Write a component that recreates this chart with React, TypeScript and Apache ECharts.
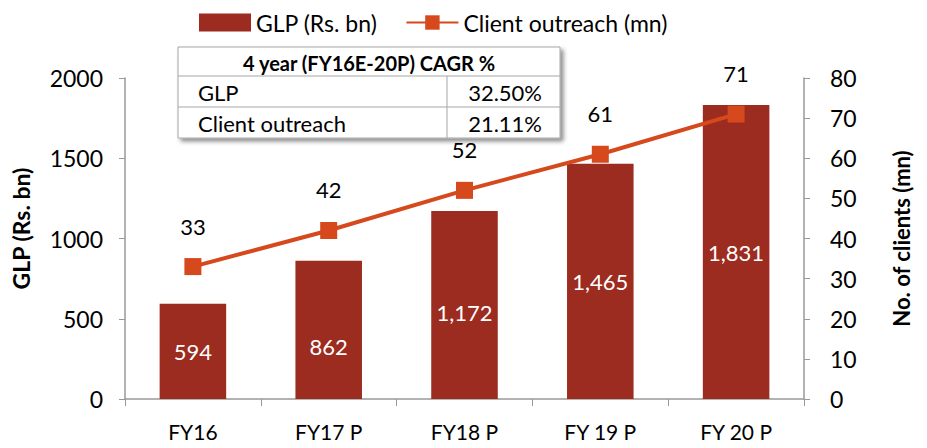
import React, { useEffect, useRef } from "react";
import * as echarts from "echarts";

const categories = ["FY16", "FY17 P", "FY18 P", "FY 19 P", "FY 20 P"];
const glp = [594, 862, 1172, 1465, 1831];
const clients = [33, 42, 52, 61, 71];
const tableHeader = "4 year (FY16E-20P) CAGR %";
const tableRows = [
  ["GLP", "32.50%"],
  ["Client outreach", "21.11%"],
];

const FONT = "Lato, 'Open Sans', sans-serif";

export default function App() {
  const ref = useRef<HTMLDivElement>(null);
  useEffect(() => {
    if (!ref.current) return;
    const chart = echarts.init(ref.current, undefined, { renderer: "svg" });
    const tx = 178, ty = 47, tw = 382, th = 91, colX = 447;
    const rowH = [29, 31, 31];
    const graphics: any[] = [
      {
        type: "rect",
        shape: { x: tx, y: ty, width: tw, height: th },
        style: {
          fill: "#fff",
          stroke: "#a6a6a6",
          lineWidth: 1,
          shadowBlur: 4,
          shadowOffsetX: 3,
          shadowOffsetY: 3,
          shadowColor: "rgba(0,0,0,0.45)",
        },
        z: 10,
      },
      { type: "line", shape: { x1: tx, y1: ty + rowH[0], x2: tx + tw, y2: ty + rowH[0] }, style: { stroke: "#a6a6a6", lineWidth: 1 }, z: 11 },
      { type: "line", shape: { x1: tx, y1: ty + rowH[0] + rowH[1], x2: tx + tw, y2: ty + rowH[0] + rowH[1] }, style: { stroke: "#a6a6a6", lineWidth: 1 }, z: 11 },
      { type: "line", shape: { x1: colX, y1: ty + rowH[0], x2: colX, y2: ty + th }, style: { stroke: "#a6a6a6", lineWidth: 1 }, z: 11 },
      {
        type: "text",
        x: tx + tw / 2,
        y: ty + rowH[0] / 2 + 1,
        style: { text: tableHeader, font: `bold 20px ${FONT}`, fill: "#000", align: "center", verticalAlign: "middle" },
        z: 12,
      },
    ];
    tableRows.forEach((r, i) => {
      const cy = ty + rowH[0] + rowH[1] * i + rowH[1] / 2 + 1;
      graphics.push({
        type: "text", x: tx + 20, y: cy,
        style: { text: r[0], font: `22px ${FONT}`, fill: "#000", align: "left", verticalAlign: "middle" }, z: 12,
      });
      graphics.push({
        type: "text", x: tx + tw - 18, y: cy,
        style: { text: r[1], font: `22px ${FONT}`, fill: "#000", align: "right", verticalAlign: "middle" }, z: 12,
      });
    });

    // Excel nudged a few bar labels downward, away from the line
    const barLabelNudge: Record<number, number> = { 1: 17, 2: 8 };
    const barData = glp.map((v, i) =>
      barLabelNudge[i] ? { value: v, label: { offset: [0, barLabelNudge[i]] } } : v
    );

    chart.setOption({
      animation: false,
      textStyle: { fontFamily: FONT },
      legend: {
        top: 6,
        left: 194,
        itemGap: 28,
        itemWidth: 52,
        itemHeight: 18,
        textStyle: { fontSize: 23, color: "#000", fontFamily: FONT },
        data: [
          { name: "GLP (Rs. bn)", icon: "rect" },
          { name: "Client outreach (mn)" },
        ],
      },
      grid: { left: 125, right: 123, top: 78, bottom: 49, outerBoundsMode: "none", containLabel: false },
      xAxis: {
        type: "category",
        data: categories,
        axisLine: { lineStyle: { color: "#999", width: 1.5 } },
        axisTick: { show: true, length: 7, lineStyle: { color: "#999" } },
        axisLabel: { fontSize: 21, color: "#000", margin: 22, fontFamily: FONT },
      },
      yAxis: [
        {
          type: "value",
          min: 0,
          max: 2000,
          interval: 500,
          name: "GLP (Rs. bn)",
          nameLocation: "middle",
          nameGap: 93,
          nameTextStyle: { fontSize: 23, fontWeight: "bold", color: "#000", fontFamily: FONT, padding: [0, 0, 0, 20] },
          axisLine: { show: true, lineStyle: { color: "#999", width: 1.5 } },
          axisTick: { show: true, length: 6, lineStyle: { color: "#999" } },
          axisLabel: { fontSize: 23, color: "#000", margin: 22, fontFamily: FONT, formatter: (v: number) => String(v) },
          splitLine: { show: false },
        },
        {
          type: "value",
          min: 0,
          max: 80,
          interval: 10,
          position: "right",
          name: "No. of clients (mn)",
          nameLocation: "middle",
          nameGap: 86,
          nameRotate: 90,
          nameTextStyle: { fontSize: 22, fontWeight: "bold", color: "#000", fontFamily: FONT },
          axisLine: { show: true, lineStyle: { color: "#999", width: 1.5 } },
          axisTick: { show: true, length: 6, lineStyle: { color: "#999" } },
          axisLabel: { fontSize: 23, color: "#000", margin: 26, fontFamily: FONT },
          splitLine: { show: false },
        },
      ],
      series: [
        {
          name: "GLP (Rs. bn)",
          type: "bar",
          data: barData,
          barWidth: "49%",
          itemStyle: { color: "#9C2B20" },
          label: {
            show: true,
            position: "inside",
            color: "#fff",
            fontSize: 22,
            fontFamily: FONT,
            formatter: (p: any) => Number(p.value).toLocaleString("en-US"),
          },
        },
        {
          name: "Client outreach (mn)",
          type: "line",
          yAxisIndex: 1,
          data: clients,
          symbol: "rect",
          symbolSize: 17,
          lineStyle: { color: "#D5491C", width: 4 },
          itemStyle: { color: "#D5491C" },
          label: {
            show: true,
            position: "top",
            distance: 21,
            color: "#000",
            fontSize: 22,
            fontFamily: FONT,
          },
          z: 5,
        },
      ],
      graphic: graphics,
    });
    return () => chart.dispose();
  }, []);
  return <div ref={ref} style={{ width: 927, height: 448, position: "absolute", left: 0, top: 0 }} />;
}
